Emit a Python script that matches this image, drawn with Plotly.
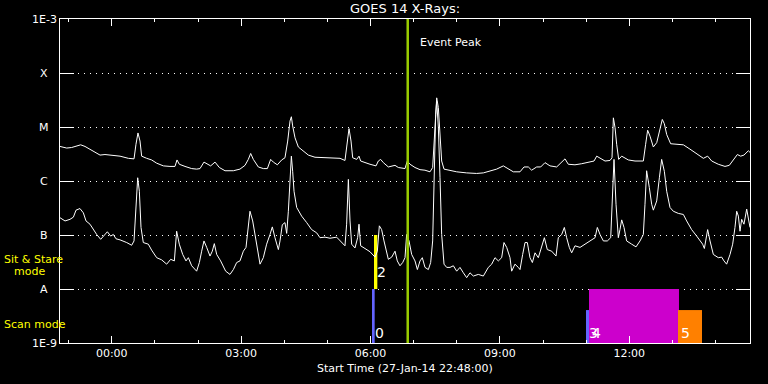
import numpy as np
import pandas as pd
import plotly.graph_objects as go

# ---------------- data ----------------
START = pd.Timestamp("2014-01-27 22:48:00")
END = pd.Timestamp("2014-01-28 14:48:00")

# GOES 14 long channel (1-8 A), minutes after start, log10(W/m^2)
long_minutes = [0.0, 9.3, 16.2, 22.3, 28.8, 34.8, 41.7, 48.7, 55.7, 62.6,
                74.2, 83.5, 95.1, 103.0, 105.7, 108.5, 111.3, 113.6, 120.6, 127.5,
                134.5, 143.8, 153.0, 160.0, 162.8, 166.0, 173.9, 183.2, 190.1, 194.8,
                200.3, 205.0, 209.6, 215.7, 221.7, 229.6, 241.2, 250.4, 257.4, 262.0,
                265.3, 269.0, 275.9, 282.9, 288.5, 293.1, 296.8, 302.4, 308.4, 313.0,
                316.8, 320.0, 321.9, 323.7, 327.0, 331.6, 338.6, 345.5, 354.8, 366.4,
                380.3, 389.6, 396.5, 399.8, 402.1, 404.9, 407.2, 412.8, 416.0, 418.3,
                424.3, 431.3, 439.7, 442.9, 446.1, 449.9, 456.8, 461.5, 466.1, 470.7,
                480.0, 483.2, 487.0, 493.9, 500.9, 507.8, 514.8, 518.5, 520.4, 522.2,
                524.1, 526.4, 528.7, 531.0, 534.3, 542.6, 551.9, 565.8, 579.7, 589.0,
                598.3, 607.5, 616.8, 623.8, 630.7, 640.0, 645.6, 651.6, 656.2, 663.2,
                668.8, 674.8, 681.7, 691.0, 698.0, 702.6, 707.2, 716.5, 725.8, 737.4,
                743.0, 746.7, 751.3, 758.3, 765.2, 768.0, 769.9, 772.2, 774.5, 777.3,
                781.5, 784.7, 790.7, 800.0, 811.6, 814.8, 817.6, 820.9, 825.5, 830.2,
                833.9, 838.0, 840.8, 844.1, 849.6, 858.0, 867.3, 876.5, 885.8, 895.1,
                901.1, 906.7, 915.9, 925.2, 931.2, 936.8, 942.4, 947.0, 951.6, 957.7,
                960.0]
long_log10 = [-5.36, -5.39, -5.38, -5.35, -5.33, -5.36, -5.41, -5.46, -5.52, -5.51,
              -5.52, -5.54, -5.58, -5.59, -5.32, -5.11, -5.26, -5.54, -5.58, -5.61,
              -5.67, -5.72, -5.73, -5.73, -5.61, -5.69, -5.73, -5.77, -5.78, -5.77,
              -5.65, -5.69, -5.72, -5.65, -5.75, -5.81, -5.81, -5.78, -5.71, -5.60,
              -5.49, -5.60, -5.74, -5.77, -5.77, -5.60, -5.65, -5.70, -5.61, -5.57,
              -5.26, -4.89, -4.81, -4.98, -5.20, -5.37, -5.44, -5.52, -5.56, -5.57,
              -5.57, -5.58, -5.62, -5.32, -5.03, -5.26, -5.57, -5.60, -5.54, -5.63,
              -5.66, -5.69, -5.72, -5.63, -5.60, -5.66, -5.74, -5.73, -5.71, -5.75,
              -5.77, -5.63, -5.69, -5.75, -5.79, -5.80, -5.83, -5.75, -5.32, -4.89,
              -4.46, -4.64, -5.20, -5.63, -5.78, -5.81, -5.83, -5.85, -5.86, -5.85,
              -5.81, -5.78, -5.72, -5.77, -5.83, -5.83, -5.74, -5.74, -5.80, -5.74,
              -5.74, -5.66, -5.72, -5.74, -5.66, -5.59, -5.69, -5.70, -5.68, -5.65,
              -5.63, -5.54, -5.58, -5.63, -5.62, -5.57, -4.83, -5.01, -5.32, -5.60,
              -5.54, -5.57, -5.61, -5.63, -5.63, -5.32, -5.06, -5.17, -5.37, -5.29,
              -5.11, -4.86, -4.94, -5.14, -5.31, -5.32, -5.33, -5.41, -5.49, -5.58,
              -5.54, -5.63, -5.69, -5.73, -5.71, -5.62, -5.51, -5.54, -5.52, -5.44,
              -5.47]

# GOES 14 short channel (0.5-4 A)
short_minutes = [0.0, 7.0, 13.9, 18.6, 22.3, 27.8, 32.5, 36.2, 41.7, 46.4,
                 51.0, 56.6, 61.2, 65.9, 70.5, 74.2, 77.9, 83.5, 92.8, 99.7,
                 103.0, 105.7, 108.1, 110.4, 112.7, 115.9, 122.9, 127.5, 134.5, 141.4,
                 148.4, 154.0, 159.1, 162.3, 166.0, 170.7, 175.3, 178.6, 183.2, 190.1,
                 193.9, 197.1, 200.3, 204.1, 208.7, 211.9, 214.7, 218.0, 223.5, 230.5,
                 236.5, 241.2, 245.8, 250.4, 255.1, 258.8, 262.0, 264.3, 268.1, 273.6,
                 278.3, 282.9, 287.5, 292.2, 295.4, 299.1, 303.8, 306.1, 309.3, 313.0,
                 315.4, 317.7, 320.0, 321.9, 323.7, 325.6, 329.3, 336.2, 343.2, 350.1,
                 357.1, 361.7, 368.7, 375.7, 384.9, 389.6, 393.3, 396.5, 398.8, 401.2,
                 403.5, 405.8, 410.4, 414.1, 416.0, 418.3, 424.3, 431.3, 438.3, 441.5,
                 444.3, 447.5, 450.8, 453.6, 456.8, 461.5, 466.1, 469.3, 473.0, 476.8,
                 480.0, 482.3, 485.6, 489.3, 493.9, 497.2, 500.9, 504.1, 507.8, 512.5,
                 515.7, 518.5, 520.8, 522.7, 524.1, 526.4, 528.7, 531.0, 534.3, 538.0,
                 542.6, 547.3, 551.9, 556.5, 561.2, 565.8, 570.4, 575.1, 582.0, 589.0,
                 595.9, 600.6, 605.2, 609.9, 614.5, 617.7, 621.5, 626.1, 628.4, 633.0,
                 637.7, 640.0, 643.7, 647.0, 650.2, 653.9, 657.2, 660.9, 665.5, 670.1,
                 673.9, 678.0, 684.1, 690.1, 693.3, 698.0, 701.7, 704.9, 708.6, 711.9,
                 716.5, 723.5, 730.4, 738.3, 744.4, 747.6, 751.3, 756.0, 761.5, 766.2,
                 768.9, 770.8, 773.6, 776.8, 779.1, 781.5, 784.7, 788.4, 795.4, 801.4,
                 807.0, 811.6, 813.9, 816.2, 819.9, 823.2, 825.5, 830.2, 833.9, 837.1,
                 840.8, 844.1, 848.7, 853.3, 860.3, 867.3, 871.9, 878.8, 885.8, 894.1,
                 896.5, 898.8, 901.1, 904.4, 909.0, 915.9, 920.6, 923.8, 927.5, 932.2,
                 935.9, 939.1, 941.5, 943.8, 946.1, 948.4, 951.6, 955.4, 957.7, 960.0]
short_log10 = [-6.68, -6.74, -6.71, -6.67, -6.54, -6.51, -6.59, -6.74, -6.80, -6.90,
               -6.99, -7.08, -7.02, -6.94, -7.02, -6.99, -7.07, -7.09, -7.14, -7.19,
               -7.11, -6.43, -5.94, -6.19, -6.86, -7.14, -7.17, -7.28, -7.42, -7.46,
               -7.54, -7.45, -7.48, -6.93, -7.17, -7.36, -7.48, -7.42, -7.57, -7.67,
               -7.51, -7.30, -7.11, -7.23, -7.39, -7.30, -7.16, -7.36, -7.48, -7.67,
               -7.73, -7.64, -7.51, -7.48, -7.30, -7.23, -6.86, -6.56, -6.74, -7.17,
               -7.54, -7.42, -7.17, -6.99, -6.85, -7.05, -7.27, -7.11, -6.81, -6.77,
               -6.97, -6.56, -5.94, -5.54, -5.82, -6.19, -6.49, -6.65, -6.77, -6.90,
               -6.96, -7.05, -7.04, -7.06, -7.04, -7.11, -7.17, -7.20, -6.80, -5.97,
               -6.74, -7.17, -7.24, -7.05, -6.80, -7.20, -7.25, -7.31, -7.41, -7.30,
               -6.83, -6.90, -7.11, -7.30, -7.45, -7.41, -7.30, -7.48, -7.57, -7.51,
               -7.42, -6.99, -7.11, -7.36, -7.48, -7.64, -7.48, -7.42, -7.60, -7.64,
               -7.51, -7.11, -5.63, -4.77, -4.52, -5.01, -5.94, -6.99, -7.54, -7.60,
               -7.60, -7.57, -7.67, -7.60, -7.70, -7.79, -7.70, -7.76, -7.73, -7.76,
               -7.60, -7.54, -7.42, -7.48, -7.42, -7.14, -7.23, -7.42, -7.67, -7.54,
               -7.60, -7.64, -7.36, -7.14, -7.14, -7.42, -7.51, -7.33, -7.42, -7.23,
               -7.05, -7.27, -7.30, -7.39, -7.05, -6.99, -6.86, -7.05, -7.23, -7.33,
               -7.20, -7.23, -7.17, -7.11, -7.05, -6.86, -6.99, -7.11, -7.11, -7.05,
               -6.12, -5.60, -6.43, -7.05, -6.90, -6.72, -6.86, -7.11, -7.17, -7.22,
               -7.11, -6.99, -6.43, -5.81, -6.12, -6.43, -6.54, -6.37, -5.94, -5.60,
               -5.82, -6.19, -6.49, -6.56, -6.60, -6.62, -6.74, -6.90, -7.02, -7.17,
               -7.25, -7.05, -6.90, -7.11, -7.36, -7.42, -7.41, -7.48, -7.54, -7.36,
               -7.17, -6.86, -6.56, -6.65, -6.93, -6.71, -6.80, -6.52, -6.69, -6.86]

# observation bars (minutes after start)
obs_labels = ["0", "2", "3", "4", "5"]
obs_start = [434.1, 436.9, 731.8, 736.0, 859.8]
obs_end = [437.8, 441.5, 736.0, 861.2, 893.2]
obs_low_log10 = [-9.0, -8.0, -9.0, -9.0, -9.0]
obs_high_log10 = [-8.0, -7.0, -8.39, -8.0, -8.39]
obs_colors = ["#6464ff", "#ffff00", "#6464ff", "#cc00cc", "#ff8000"]
obs_label_log10 = [-8.815, -7.685, -8.815, -8.815, -8.815]

event_peak_minutes = 483.8

level_log10 = [-9, -8, -7, -6, -5, -4, -3]
level_text = ["1E-9", "A", "B", "C", "M", "X", "1E-3"]

FONT = "DejaVu Sans"


def t(m):
    return START + pd.to_timedelta(np.asarray(m, dtype=float), unit="min")


fig = go.Figure()

# observation bars
for lab, s, e, lo, hi, col in zip(obs_labels, obs_start, obs_end,
                                  obs_low_log10, obs_high_log10, obs_colors):
    xs = t([s, e, e, s, s])
    ys = [10 ** lo, 10 ** lo, 10 ** hi, 10 ** hi, 10 ** lo]
    fig.add_trace(go.Scatter(x=xs, y=ys, mode="lines", fill="toself",
                             fillcolor=col, line=dict(width=0, color=col),
                             hoverinfo="skip", showlegend=False))

fig.add_trace(go.Scatter(x=t(long_minutes), y=10 ** np.array(long_log10),
                         mode="lines", line=dict(color="white", width=1),
                         showlegend=False))
fig.add_trace(go.Scatter(x=t(short_minutes), y=10 ** np.array(short_log10),
                         mode="lines", line=dict(color="white", width=1),
                         showlegend=False))

# event peak line
ep = t([event_peak_minutes])[0]
fig.add_shape(type="line", xref="x", yref="paper", x0=ep, x1=ep, y0=0, y1=1,
              line=dict(color="#99cc00", width=2.5))

ann = []
# y labels
for v, txt in zip(level_log10, level_text):
    ann.append(dict(xref="paper", x=0, xshift=-16, xanchor="center",
                    yref="y", y=v, yanchor="middle", text=txt, showarrow=False,
                    font=dict(color="white", size=11, family=FONT)))
# obs labels
for lab, s, ly in zip(obs_labels, obs_start, obs_label_log10):
    ann.append(dict(xref="x", x=t([s + 1.5])[0], xanchor="left",
                    yref="y", y=ly, yanchor="middle", text=lab, showarrow=False,
                    font=dict(color="white", size=14, family=FONT)))
# event peak text
ann.append(dict(xref="x", x=t([event_peak_minutes + 14])[0], xanchor="left",
                yref="paper", y=0.927, yanchor="middle", text="Event Peak",
                showarrow=False, font=dict(color="white", size=11, family=FONT)))
# title
ann.append(dict(xref="paper", x=0.5, xanchor="center", yref="paper", y=1,
                yshift=11, yanchor="middle", text="GOES 14 X-Rays:",
                showarrow=False, font=dict(color="white", size=13, family=FONT)))
# x title
ann.append(dict(xref="paper", x=0.5, xanchor="center", yref="paper", y=0,
                yshift=-25, yanchor="middle",
                text="Start Time (27-Jan-14 22:48:00)",
                showarrow=False, font=dict(color="white", size=11, family=FONT)))
# mode labels
ann.append(dict(xref="paper", x=0, xshift=-58, xanchor="left", yref="paper",
                y=(343 - 259) / 324, yanchor="middle", text="Sit & Stare",
                showarrow=False, font=dict(color="#ffff00", size=11, family=FONT)))
ann.append(dict(xref="paper", x=0, xshift=-48, xanchor="left", yref="paper",
                y=(343 - 271) / 324, yanchor="middle", text="mode",
                showarrow=False, font=dict(color="#ffff00", size=11, family=FONT)))
ann.append(dict(xref="paper", x=0, xshift=-58, xanchor="left", yref="paper",
                y=(343 - 324) / 324, yanchor="middle", text="Scan mode",
                showarrow=False, font=dict(color="#ffff00", size=11, family=FONT)))

fig.update_layout(
    width=768, height=384,
    margin=dict(l=60, r=18, t=19, b=41, pad=0),
    paper_bgcolor="black", plot_bgcolor="black",
    annotations=ann,
    xaxis=dict(type="date", range=[START, END], automargin=False,
               tickformat="%H:%M", dtick=3 * 3600 * 1000,
               tick0="2014-01-28 00:00:00",
               ticks="inside", ticklen=7, tickwidth=1, tickcolor="white",
               showline=True, linecolor="white", linewidth=1, mirror="allticks",
               showgrid=False, zeroline=False,
               tickfont=dict(color="white", size=11, family=FONT),
               minor=dict(dtick=3600 * 1000, tick0="2014-01-28 00:00:00",
                          ticks="inside", ticklen=3, tickcolor="white",
                          tickwidth=1, showgrid=False)),
    yaxis=dict(type="log", range=[-9, -3], automargin=False,
               tickvals=[10.0 ** v for v in level_log10], showticklabels=False,
               ticks="inside", ticklen=14, tickwidth=1, tickcolor="white",
               showline=True, linecolor="white", linewidth=1, mirror="allticks",
               showgrid=True, gridcolor="white", gridwidth=1, griddash="1px,5px",
               zeroline=False),
)

fig.write_html("out.html")
